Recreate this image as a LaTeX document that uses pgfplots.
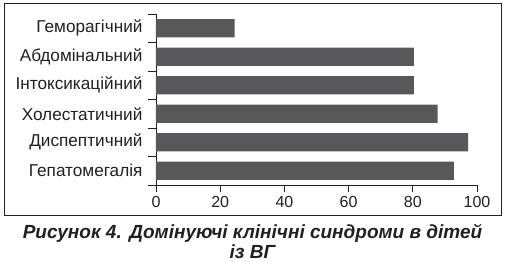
\documentclass[border=0pt]{standalone}
\usepackage{fontspec}
\setmainfont{Liberation Sans}
\usepackage{pgfplots}
\pgfplotsset{compat=1.18}
\definecolor{barc}{RGB}{88,88,90}
\definecolor{txt}{RGB}{35,31,32}
\begin{document}
\begin{tikzpicture}[x=1pt,y=1pt]
\useasboundingbox (0,0) rectangle (506,262);
\draw[line width=1pt, txt] (4.5,46.5) rectangle (501.5,258.5);
\begin{axis}[
  at={(156pt,77pt)}, anchor=south west,
  scale only axis, width=321pt, height=171pt,
  xmin=0, xmax=100, ymin=0, ymax=6,
  axis lines*=left,
  xtick={0,20,...,100},
  ytick={0,1,...,6},
  yticklabels={Гепатомегалія,Диспептичний,Холестатичний,Інтоксикаційний,Абдомінальний,Геморагічний,{}},
  y tick label style={yshift=14.25pt, xshift=-2.5pt, font=\fontsize{17.2}{20}\selectfont},
  tick align=outside, major tick length=7.5pt,
  tick style={line width=0.8pt, txt},
  axis line style={line width=0.8pt, txt},
  tick label style={font=\fontsize{16}{19}\selectfont, text=txt},
  /pgf/number format/assume math mode=true,
  xbar, bar width=18.3pt, clip=false,
]
\addplot[fill=barc, draw=none] coordinates {
  (92.8,0.5) (97.2,1.5) (87.7,2.5) (80.3,3.5) (80.3,4.5) (24.5,5.5)
};
\end{axis}
\node[anchor=base, font=\fontsize{19}{22}\selectfont\bfseries\itshape, text=txt] at (252.5,23) {Рисунок 4.\hspace{0.4em}Домінуючі клінічні синдроми в дітей};
\node[anchor=base, font=\fontsize{19}{22}\selectfont\bfseries\itshape, text=txt] at (252.5,3) {із ВГ};
\end{tikzpicture}
\end{document}
